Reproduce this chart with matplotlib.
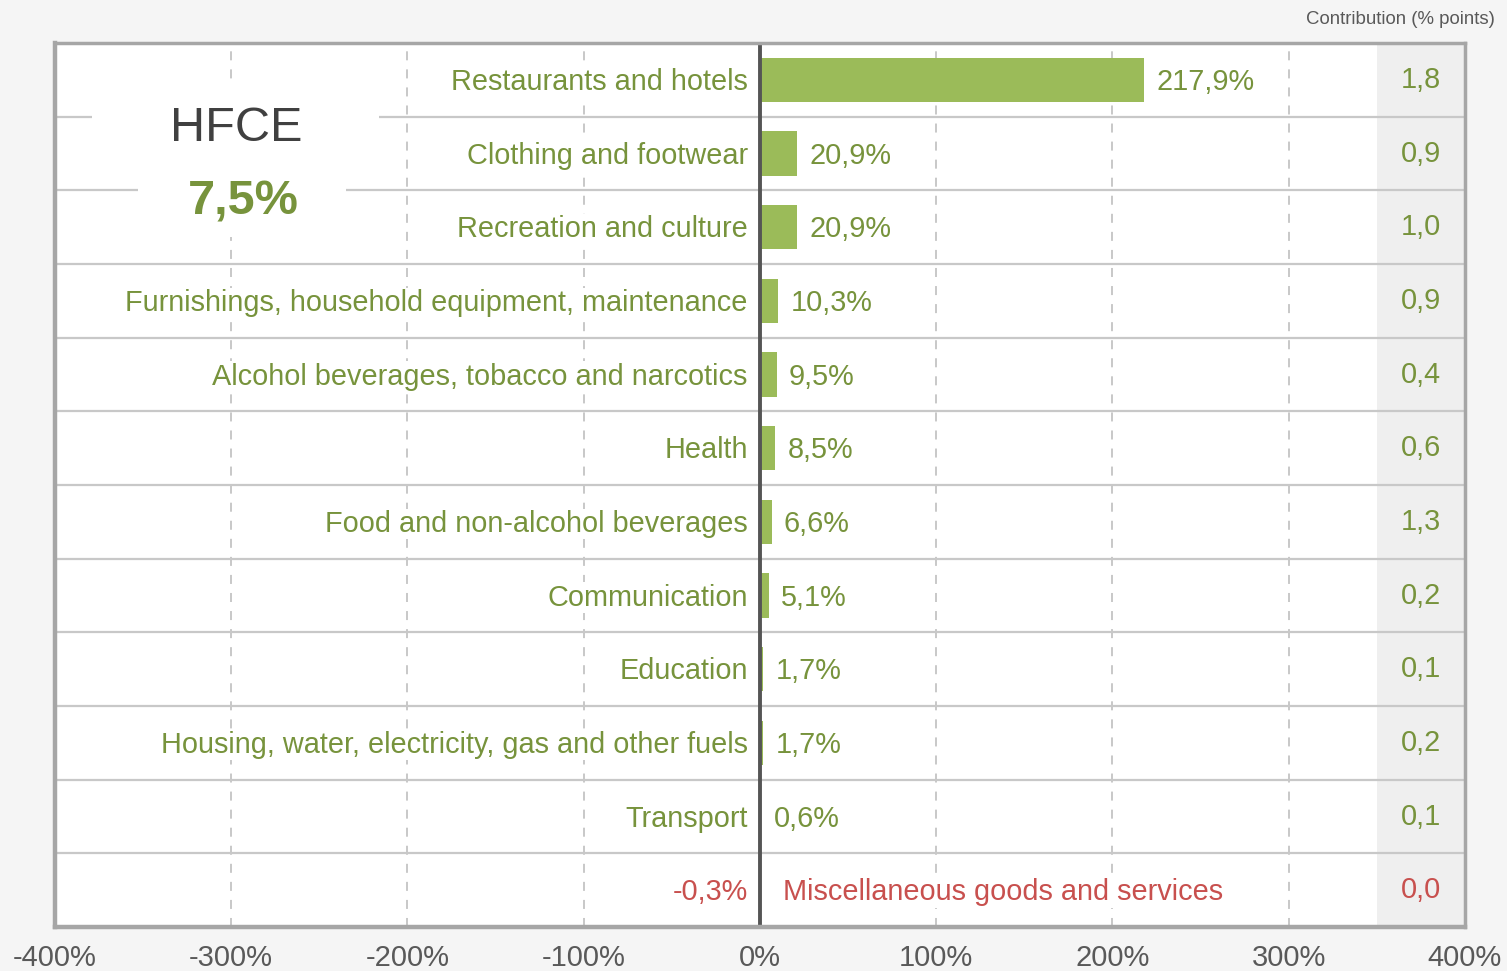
import matplotlib
matplotlib.use("Agg")
import matplotlib.pyplot as plt
from matplotlib.ticker import FuncFormatter
from matplotlib.patches import Rectangle

plt.rcParams['font.family'] = ['Liberation Sans', 'DejaVu Sans']

categories = [
    "Restaurants and hotels",
    "Clothing and footwear",
    "Recreation and culture",
    "Furnishings, household equipment, maintenance",
    "Alcohol beverages, tobacco and narcotics",
    "Health",
    "Food and non-alcohol beverages",
    "Communication",
    "Education",
    "Housing, water, electricity, gas and other fuels",
    "Transport",
    "Miscellaneous goods and services",
]
growth = [217.9, 20.9, 20.9, 10.3, 9.5, 8.5, 6.6, 5.1, 1.7, 1.7, 0.6, -0.3]
contribution = [1.8, 0.9, 1.0, 0.9, 0.4, 0.6, 1.3, 0.2, 0.1, 0.2, 0.1, 0.0]
xticks = [-400, -300, -200, -100, 0, 100, 200, 300, 400]
total_label = "HFCE"
total_value = 7.5

GREEN_BAR = "#9BBB59"
GREEN_TXT = "#77933C"
RED_TXT = "#C8504E"
GRAY_TXT = "#595959"

def fmt(v, dec=1):
    return f"{v:.{dec}f}".replace(".", ",")

W, H = 1507, 971
fig = plt.figure(figsize=(W / 100, H / 100), dpi=100)
fig.patch.set_facecolor("#f5f5f5")
ax = fig.add_axes([55 / W, 1 - 927 / H, (1465 - 55) / W, (927 - 43) / H])
ax.set_facecolor("white")

n = len(categories)
ypos = list(range(n))
ax.set_xlim(-400, 400)
ax.set_ylim(n - 0.5, -0.5)

# contribution band
ax.axvspan(350, 400, color="#efefef", zorder=0.5, lw=0)
# dashed verticals
for x in [-300, -200, -100, 100, 200, 300]:
    ax.axvline(x, color="#c4c4c4", lw=1.3, ls=(0, (5, 5)), zorder=1)
# row separators
for i in range(n - 1):
    ax.axhline(i + 0.5, color="#c8c8c8", lw=1.6, zorder=1.2)

ax.barh(ypos, growth, height=0.6, color=GREEN_BAR, zorder=2)
ax.axvline(0, color="#555555", lw=2.8, zorder=3)

fs = 20.8
bb = dict(facecolor="white", edgecolor="none", pad=1.0)
for y, cat, v, c in zip(ypos, categories, growth, contribution):
    yt = y + 0.03
    if v >= 0:
        ax.text(-7, yt, cat, ha="right", va="center", color=GREEN_TXT, fontsize=fs, zorder=4, bbox=bb)
        ax.text(v + 7, yt, fmt(v) + "%", ha="left", va="center", color=GREEN_TXT, fontsize=fs, zorder=4, bbox=bb)
        col = GREEN_TXT
    else:
        ax.text(-7, yt, fmt(v) + "%", ha="right", va="center", color=RED_TXT, fontsize=fs, zorder=4, bbox=bb)
        ax.text(13, yt, cat, ha="left", va="center", color=RED_TXT, fontsize=fs, zorder=4, bbox=bb)
        col = RED_TXT
    ax.text(375, y, fmt(c), ha="center", va="center", color=col, fontsize=fs, zorder=4)

# HFCE box (white panels hiding grid)
ax.add_patch(Rectangle((-379, 0.07), 163, 1.23, facecolor="white", edgecolor="none", zorder=4.5))
ax.add_patch(Rectangle((-353, 1.3), 118, 0.83, facecolor="white", edgecolor="none", zorder=4.5))
ax.text(-297, 0.66, total_label, ha="center", va="center", color="#404040", fontsize=35, zorder=5)
ax.text(-293, 1.66, fmt(total_value) + "%", ha="center", va="center", color=GREEN_TXT,
        fontsize=35, fontweight="bold", zorder=5)

ax.set_xticks(xticks)
ax.xaxis.set_major_formatter(FuncFormatter(lambda v, p: f"{int(v)}%"))
ax.tick_params(axis="x", length=0, labelsize=21, labelcolor=GRAY_TXT, pad=12)
ax.set_yticks([])
for s in ax.spines.values():
    s.set_color("#a6a6a6")
    s.set_linewidth(2.5)
    s.set_zorder(6)
ax.spines["left"].set_linewidth(3.2)
ax.spines["bottom"].set_linewidth(3.2)

fig.text(1495 / W, 1 - 19 / H, "Contribution (% points)", ha="right", va="center",
         color=GRAY_TXT, fontsize=13.4)

fig.savefig("out.png", dpi=100, facecolor=fig.get_facecolor())
